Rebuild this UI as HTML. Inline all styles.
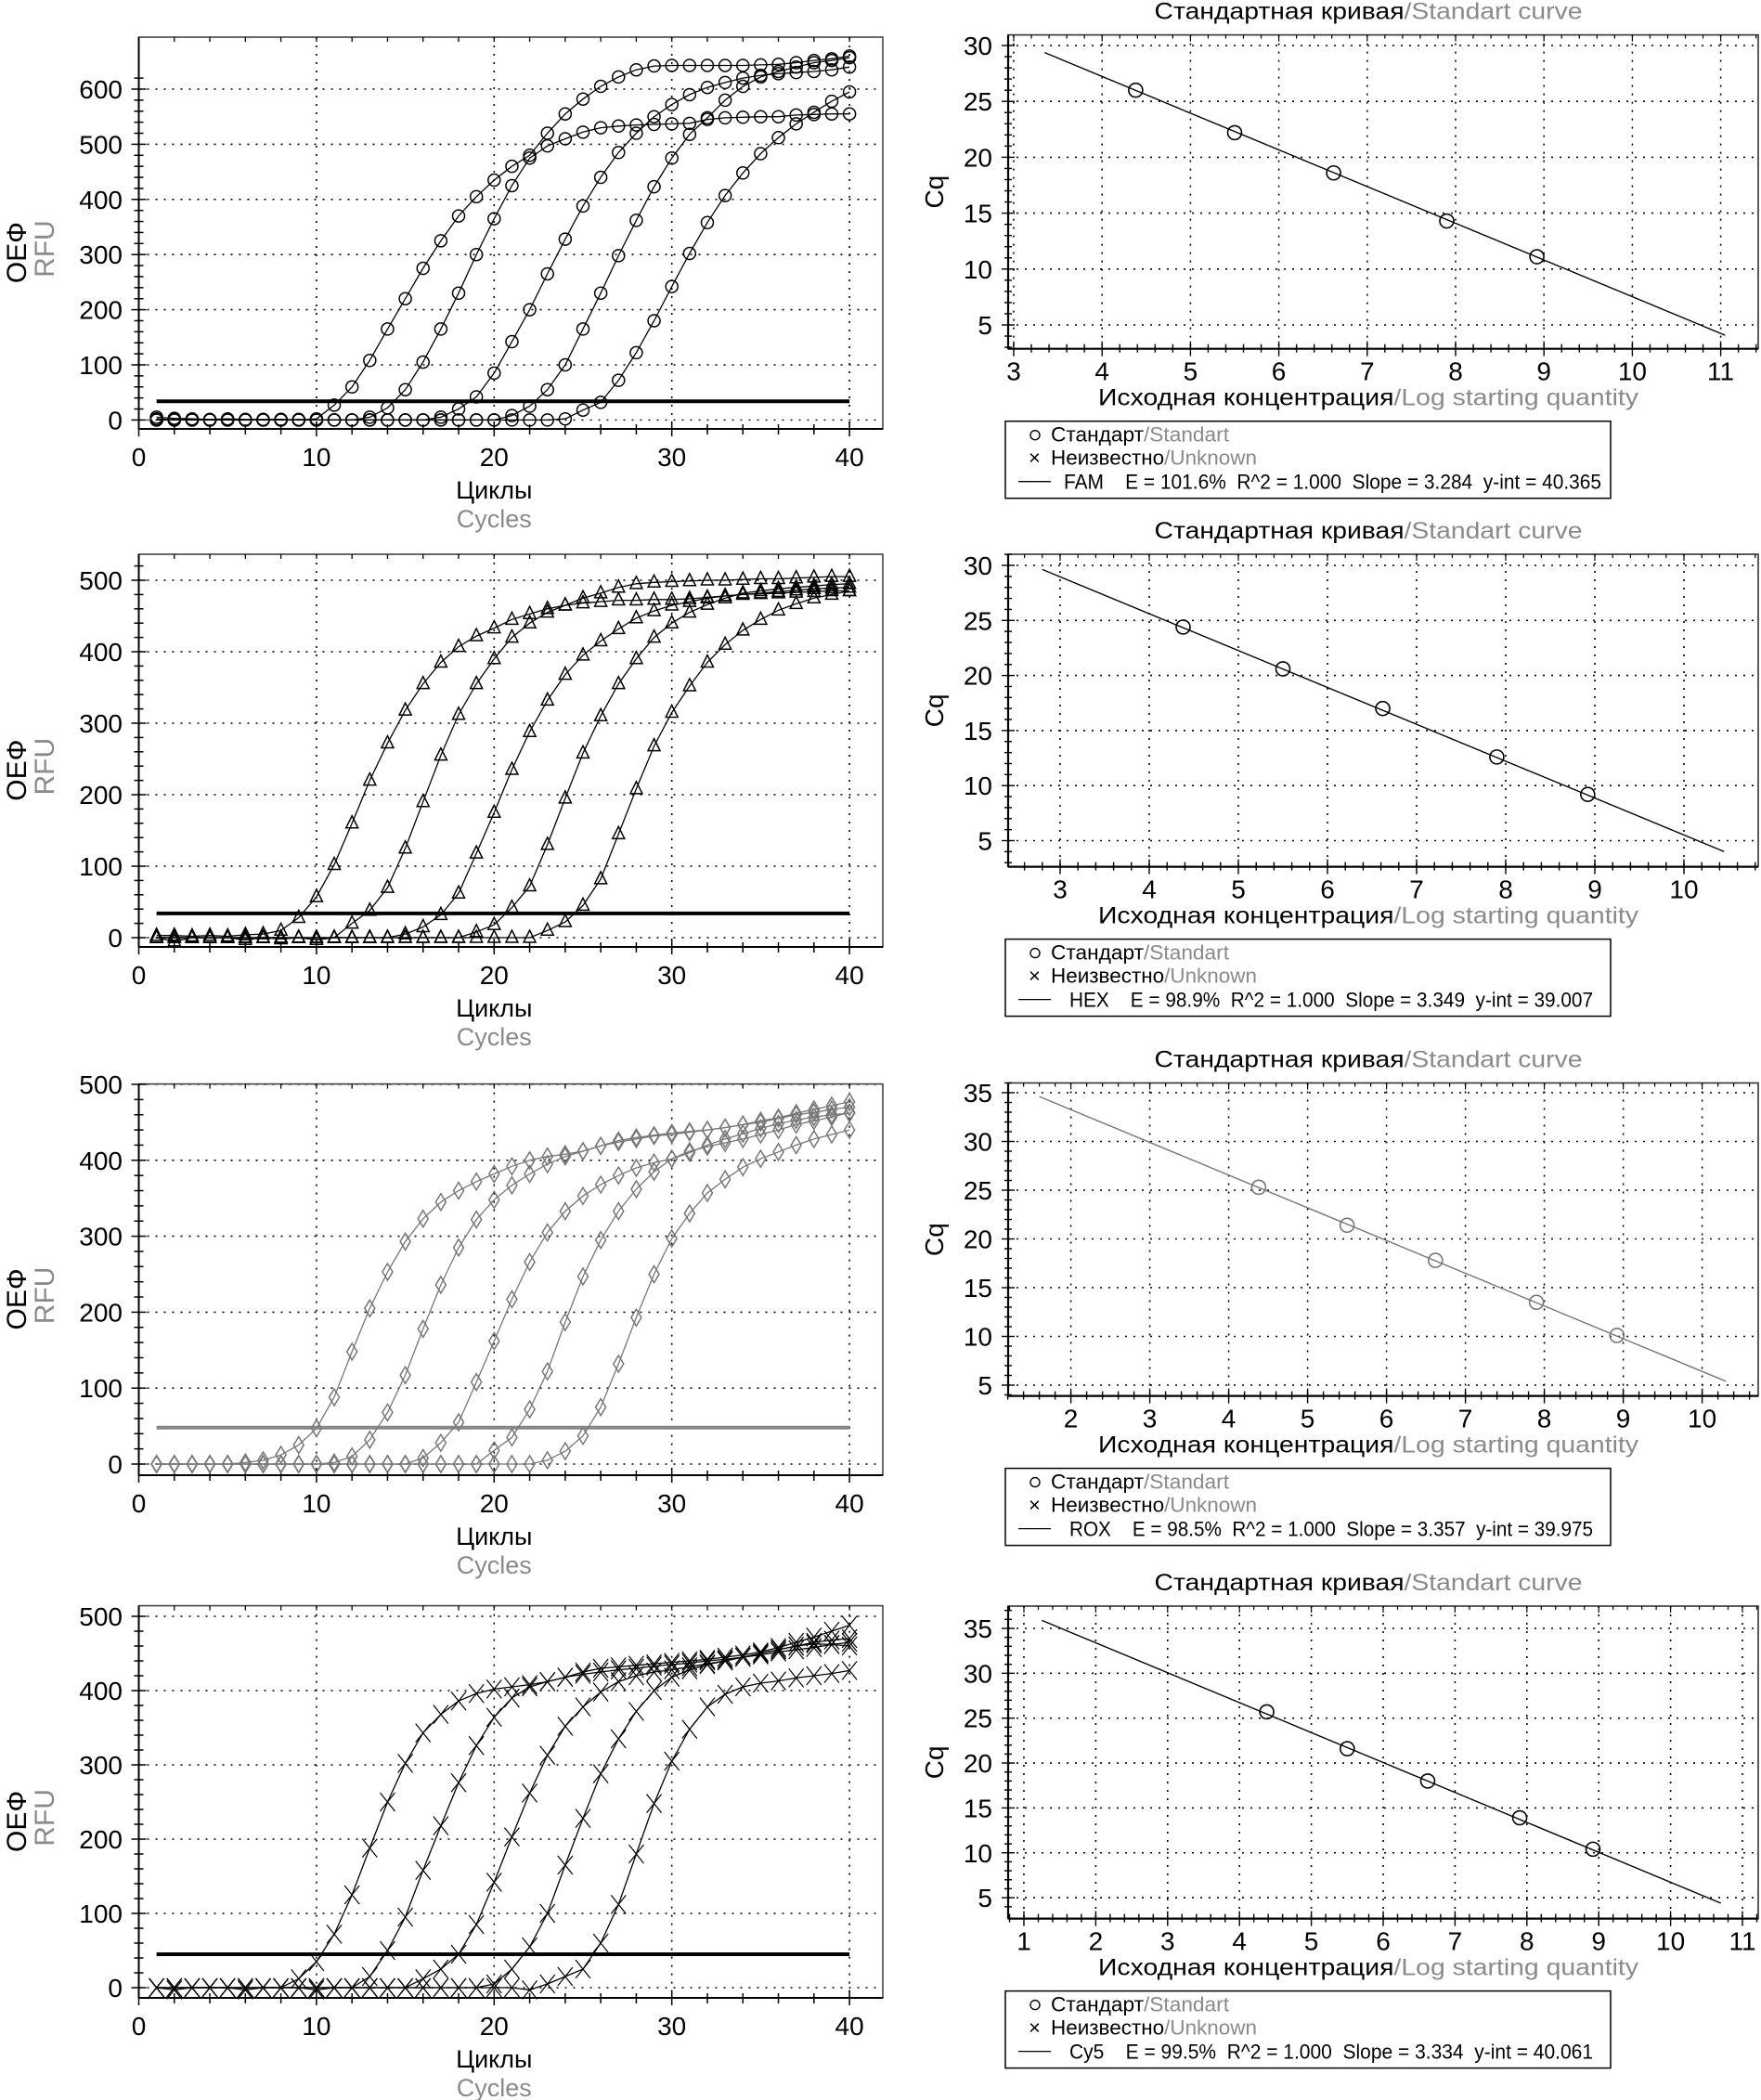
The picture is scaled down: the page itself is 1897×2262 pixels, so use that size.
<!DOCTYPE html>
<html><head><meta charset="utf-8"><style>
html,body{margin:0;padding:0;background:#fff;}
svg{display:block;font-family:"Liberation Sans","DejaVu Sans",sans-serif;}
</style></head><body>
<svg id="chart" width="1897" height="2262" viewBox="0 0 1897 2262" xmlns="http://www.w3.org/2000/svg"></svg>
<script>
// ---------- DATA ----------
const cycles = [1,2,3,4,5,6,7,8,9,10,11,12,13,14,15,16,17,18,19,20,21,22,23,24,25,26,27,28,29,30,31,32,33,34,35,36,37,38,39,40];
const famA = [5,3,2,1,2,1,1,1,0,2,27,60,108,165,220,275,325,370,405,435,460,480,520,555,582,605,622,635,642,643,643,643,643,643,644,645,648,652,655,660];
const famB = [2,0,1,0,1,0,0,0,1,0,0,0,5,22,55,105,165,230,300,365,425,475,497,510,522,530,533,535,536,537,538,545,548,549,550,550,553,554,555,555];
const famC = [0,1,0,0,0,0,0,1,0,0,0,0,0,0,0,0,5,20,42,85,142,200,265,328,388,440,485,520,550,572,590,603,612,620,625,628,630,632,635,640];
const famD = [0,0,0,0,0,0,0,0,0,0,0,0,0,0,0,0,0,0,0,0,8,25,55,100,165,230,298,362,423,475,518,548,580,605,622,632,640,648,652,657];
const famE = [0,0,0,0,0,0,0,0,0,0,0,0,0,0,0,0,0,0,0,0,0,0,0,2,18,32,72,122,180,242,302,358,407,448,483,512,537,558,578,595];
const hexA = [3,3,2,3,2,4,5,10,28,57,102,160,220,272,318,355,385,407,422,433,445,453,460,465,468,470,472,472,473,473,474,476,478,480,481,482,483,484,485,485];
const hexB = [0,-5,0,0,0,-3,0,-2,0,-3,0,20,38,70,125,190,255,312,355,390,420,440,455,465,475,482,490,495,497,498,499,500,500,501,502,502,503,504,505,505];
const hexC = [0,0,0,0,0,0,0,0,0,0,0,0,0,0,5,15,32,62,118,175,235,288,332,368,395,415,432,447,457,465,470,475,478,480,482,484,486,488,489,490];
const hexD = [0,0,0,0,0,0,0,0,0,0,0,0,0,0,0,0,0,0,8,18,42,72,130,195,258,310,355,390,420,440,455,466,475,482,485,488,490,492,494,495];
const hexE = [0,0,0,0,0,0,0,0,0,0,0,0,0,0,0,0,0,0,0,0,0,0,10,22,45,82,145,208,268,315,352,385,410,430,445,458,467,475,480,485];
const roxA = [0,0,0,0,0,2,5,12,25,47,88,148,205,253,293,323,345,360,372,382,392,400,405,408,412,419,424,428,432,434,437,440,443,447,450,455,460,463,467,470];
const roxB = [0,0,0,0,0,0,0,0,0,0,2,10,32,68,117,178,236,285,322,348,367,382,395,405,412,419,426,430,433,436,438,440,443,447,452,456,462,467,472,477];
const roxC = [0,0,0,0,0,0,0,0,0,0,0,0,0,0,0,8,28,55,108,162,217,266,305,333,353,368,380,390,397,402,410,420,428,435,442,448,453,457,460,462];
const roxD = [0,0,0,0,0,0,0,0,0,0,0,0,0,0,0,0,0,0,0,18,35,72,122,187,247,295,333,362,385,402,412,418,423,428,434,440,447,452,457,463];
const roxE = [0,0,0,0,0,0,0,0,0,0,0,0,0,0,0,0,0,0,0,0,0,0,5,17,37,75,132,193,250,297,330,357,375,391,402,411,420,428,434,440];
const cy5A = [0,0,0,0,0,0,0,0,12,35,72,125,188,250,302,343,368,386,396,402,405,408,412,418,425,430,432,434,436,438,440,442,445,448,452,458,465,472,480,488];
const cy5B = [0,-3,0,0,0,-3,0,0,0,-3,0,0,15,50,95,158,218,276,326,364,390,405,412,418,422,425,428,430,433,435,437,440,442,445,448,452,455,458,462,465];
const cy5C = [0,0,0,0,0,0,0,0,0,0,0,0,0,0,0,12,25,45,85,142,203,262,313,352,378,398,412,420,425,428,432,436,440,445,450,455,460,465,468,470];
const cy5D = [0,0,0,0,0,0,0,0,0,0,0,0,0,0,0,0,0,0,0,5,25,55,100,165,228,288,335,372,400,418,428,435,440,445,450,455,460,463,462,460];
const cy5E = [0,0,0,0,0,0,0,0,0,0,0,0,0,0,0,0,0,0,0,0,0,-3,5,15,25,60,112,180,248,305,348,378,395,405,410,413,417,420,423,427];
const thresholds = [34,34,48,45];
const ampTicksP1 = [0,100,200,300,400,500,600];
const ampTicksP2 = [0,100,200,300,400,500];
const cycleTicks = [0,10,20,30,40];

const stdX = [4.38,5.5,6.62,7.9,8.92];
const famCq = [26.0,22.2,18.6,14.3,11.1];
const hexCq = [24.4,20.6,17.0,12.6,9.2];
const roxCq = [25.3,21.4,17.8,13.5,10.1];
const cy5Cq = [25.7,21.6,18.0,13.9,10.4];
const slopes = [3.284,3.349,3.357,3.334];
const intercepts = [40.365,39.007,39.975,40.061];
const fitStart = [3.35,2.8,1.6,1.25];
const fitEnd = [11.05,10.45,10.3,10.7];
const dyes = ["FAM","HEX","ROX","Cy5"];
const effs = ["101.6%","98.9%","98.5%","99.5%"];
const cqTicks1 = [5,10,15,20,25,30];
const cqTicks2 = [5,10,15,20,25,30,35];
const lsqTicks1 = [3,4,5,6,7,8,9,10,11];
const lsqTicks2 = [3,4,5,6,7,8,9,10];
const lsqTicks3 = [2,3,4,5,6,7,8,9,10];
const lsqTicks4 = [1,2,3,4,5,6,7,8,9,10,11];

// ---------- DRAW ----------
const NS = "http://www.w3.org/2000/svg";
const svg = document.getElementById('chart');
const GRAY = "#8a8a8a";
function mk(tag, parent){ const e = document.createElementNS(NS, tag); parent.appendChild(e); return e; }
function attrs(e, o){ for (const k in o) e.setAttribute(k, o[k]); return e; }
function line(p, x1,y1,x2,y2, st, w, dash){
  const e = mk('line', p); attrs(e,{x1,y1,x2,y2,stroke:st,'stroke-width':w}); if(dash) e.setAttribute('stroke-dasharray',dash); return e;
}
function txt(p, x, y, s, size, anchor, fill){
  const e = mk('text', p); attrs(e,{x,y,'font-size':size,'text-anchor':anchor||'start',fill:fill||'#000'}); e.textContent = s; return e;
}
function bilingual(p, x, y, ru, en, size, width, anchor){
  const t = mk('text', p); attrs(t,{x,y,'font-size':size,'text-anchor':anchor||'start'});
  if(width){ t.setAttribute('textLength', width); t.setAttribute('lengthAdjust','spacingAndGlyphs'); }
  const a = mk('tspan', t); a.textContent = ru; a.setAttribute('fill','#000');
  const b = mk('tspan', t); b.textContent = en; b.setAttribute('fill',GRAY);
  return t;
}

function marker(p, type, cx, cy, color){
  let e;
  if(type==='circle'){ e = mk('ellipse',p); attrs(e,{cx,cy,rx:6.5,ry:6.5,fill:'none',stroke:color,'stroke-width':1.5}); }
  else if(type==='tri'){ e = mk('polygon',p); attrs(e,{points:`${cx},${cy-8} ${cx-6.5},${cy+5} ${cx+6.5},${cy+5}`,fill:'none',stroke:color,'stroke-width':1.5}); }
  else if(type==='diamond'){ e = mk('polygon',p); attrs(e,{points:`${cx},${cy-9} ${cx-5.5},${cy} ${cx},${cy+9} ${cx+5.5},${cy}`,fill:'none',stroke:color,'stroke-width':1.5}); }
  else { e = mk('path',p); attrs(e,{d:`M${cx-8},${cy-10}L${cx+8},${cy+10}M${cx-8},${cy+10}L${cx+8},${cy-10}`,fill:'none',stroke:color,'stroke-width':1.2}); }
  return e;
}

const ampPanels = [
  {top:40,bottom:462,y0:452.4,py:0.594,ymax:600,ticks:ampTicksP1,series:[famA,famB,famC,famD,famE],mark:'circle',color:'#000',thr:'#000'},
  {top:597,bottom:1020,y0:1010,py:0.77,ymax:500,ticks:ampTicksP2,series:[hexA,hexB,hexC,hexD,hexE],mark:'tri',color:'#000',thr:'#000'},
  {top:1167.6,bottom:1589,y0:1577,py:0.818,ymax:500,ticks:ampTicksP2,series:[roxA,roxB,roxC,roxD,roxE],mark:'diamond',color:'#777',thr:'#888'},
  {top:1729.6,bottom:2152,y0:2141,py:0.80,ymax:500,ticks:ampTicksP2,series:[cy5A,cy5B,cy5C,cy5D,cy5E],mark:'x',color:'#000',thr:'#000'}
];
const AL = 149.5, AR = 951, APX = 19.14;
const ax = v => AL + v*APX;

ampPanels.forEach((P, pi) => {
  const g = mk('g', svg);
  
  
  const ay = v => P.y0 - v*P.py;
  const grid = mk('g', g);
  
  
  P.ticks.forEach(t => { if(t>0) line(grid, AL, ay(t), AR, ay(t), '#000', 1.6, '2 7'); });
  cycleTicks.forEach(t => { if(t>0) line(grid, ax(t), P.top, ax(t), P.bottom, '#000', 1.6, '2 7'); });
  line(grid, AL, ay(0), AR, ay(0), '#000', 1.4, '2 7');
  const fr = mk('rect', g); attrs(fr,{x:AL,y:P.top,width:AR-AL,height:P.bottom-P.top,fill:'none',stroke:'#444','stroke-width':1.6});
  
  
  line(g, AL, P.top, AL, P.bottom, '#000', 2);
  line(g, AL, P.bottom, AR, P.bottom, '#000', 2);
  for(let v=0; v<=P.ymax+20; v+=20){ const y=ay(v); if(y<P.top) break; const major = v%100===0; line(g, AL-(major?8:5), y, AL+(major?8:5), y, '#000', 1.5); }
  for(let v=-20; v<0; v+=20){ const y=ay(v); if(y<P.bottom) line(g, AL-5, y, AL+5, y, '#000', 1.5); }
  for(let c=0; c<=42; c+=2){ const x=ax(c); if(x>AR) break; const major=c%10===0; line(g, x, P.bottom-(major?8:5), x, P.bottom+(major?8:6), '#000', 1.5); line(g, x, P.top, x, P.top+5, '#000', 1.3); }
  P.ticks.forEach(t => {
    const e = txt(g, 132, ay(t)+10, String(t), 28, 'end');
    
    
  });
  cycleTicks.forEach(t => {
    const e = txt(g, ax(t), P.bottom+40, String(t), 28, 'middle');
    
    
  });
  const xl1 = txt(g, ax(20), P.bottom+75, 'Циклы', 27, 'middle');
  
  
  const xl2 = txt(g, ax(20), P.bottom+106, 'Cycles', 27, 'middle', GRAY);
  
  
  const cy = P.top + 0.55*(P.bottom-P.top);
  const yl1 = txt(g, 0, 0, 'ОЕФ', 30, 'middle'); yl1.setAttribute('transform',`translate(28,${cy}) rotate(-90)`);
  
  
  const yl2 = txt(g, 0, 0, 'RFU', 30, 'middle', GRAY); yl2.setAttribute('transform',`translate(58,${cy-4}) rotate(-90)`);
  
  
  const th = line(g, ax(1), ay(thresholds[pi]), ax(40), ay(thresholds[pi]), P.thr, 4);
  
  
  P.series.forEach((arr, si) => {
    const sg = mk('g', g);
    
    
    const pts = arr.map((v,i)=> ax(cycles[i]).toFixed(1)+','+ay(v).toFixed(1)).join(' ');
    const pl = mk('polyline', sg); attrs(pl,{points:pts,fill:'none',stroke:P.color,'stroke-width':1.3});
    
    
    arr.forEach((v,i) => {
      const m = marker(sg, P.mark, ax(cycles[i]), ay(v), P.color);
      
      
    });
  });
});

// ---------- Standard curves ----------
const stdPanels = [
  {top:37.6,bottom:375.7,x0:3,px0:1092,pxu:95.2,ytop:30,py0:49,pyu:12.04,xmin:2.94,xmax:11.43,ymin:2.87,ymaxv:30.95,xt:lsqTicks1,yt:cqTicks1,cq:famCq,color:'#000'},
  {top:597,bottom:933.6,x0:3,px0:1142,pxu:96,ytop:30,py0:609,pyu:11.86,xmin:2.42,xmax:10.83,ymin:2.6,ymaxv:31.0,xt:lsqTicks2,yt:cqTicks1,cq:hexCq,color:'#000'},
  {top:1166.5,bottom:1503.6,x0:2,px0:1153.6,pxu:85,ytop:35,py0:1177,pyu:10.5,xmin:1.2,xmax:10.7,ymin:3.9,ymaxv:36.0,xt:lsqTicks3,yt:cqTicks2,cq:roxCq,color:'#777'},
  {top:1730,bottom:2066.6,x0:1,px0:1103,pxu:77.4,ytop:35,py0:1754,pyu:9.67,xmin:0.78,xmax:11.22,ymin:3.7,ymaxv:37.5,xt:lsqTicks4,yt:cqTicks2,cq:cy5Cq,color:'#000'}
];
const SL = 1086, SR = 1894;
stdPanels.forEach((P, pi) => {
  const g = mk('g', svg);
  
  
  const sx = v => P.px0 + (v-P.x0)*P.pxu;
  const sy = v => P.py0 + (P.ytop-v)*P.pyu;
  const title = bilingual(g, 1474, P.top-17, 'Стандартная кривая', '/Standart curve', 25, 461, 'middle');
  
  
  const grid = mk('g', g);
  
  
  P.yt.forEach(t => line(grid, SL, sy(t), SR, sy(t), '#000', 1.6, '2 7'));
  P.xt.forEach(t => line(grid, sx(t), P.top, sx(t), P.bottom, '#000', 1.6, '2 7'));
  const fr = mk('rect', g); attrs(fr,{x:SL,y:P.top,width:SR-SL,height:P.bottom-P.top,fill:'none',stroke:'#333','stroke-width':1.6});
  
  
  line(g, SL, P.top, SL, P.bottom, '#000', 2.2);
  line(g, SL, P.bottom, SR, P.bottom, '#000', 2.2);
  for(let v=Math.ceil(P.ymin); v<=P.ymaxv; v++){ const y=sy(v); const major=v%5===0; line(g, SL-(major?7:4), y, SL+(major?7:4), y, '#000', 1.4); }
  for(let k=Math.ceil(P.xmin*5); k<=P.xmax*5; k++){ const v=k/5; const x=sx(v); const major=k%5===0; line(g, x, P.bottom-(major?8:5), x, P.bottom+(major?8:4), '#000', 1.4); line(g, x, P.top, x, P.top+(major?7:4), '#000', 1.2); }
  P.yt.forEach(t => {
    const e = txt(g, 1069, sy(t)+10, String(t), 28, 'end');
    
    
  });
  P.xt.forEach(t => {
    const e = txt(g, sx(t), P.bottom+34, String(t), 28, 'middle');
    
    
  });
  const yl = txt(g, 0, 0, 'Cq', 28, 'middle'); yl.setAttribute('transform',`translate(1016,${(P.top+P.bottom)/2}) rotate(-90)`);
  
  
  const xl = bilingual(g, 1474, P.bottom+61, 'Исходная концентрация', '/Log starting quantity', 25, 582, 'middle');
  
  
  const f1 = fitStart[pi], f2 = fitEnd[pi];
  const fit = line(g, sx(f1), sy(intercepts[pi]-slopes[pi]*f1), sx(f2), sy(intercepts[pi]-slopes[pi]*f2), P.color, 1.4);
  
  
  P.cq.forEach((v,i) => {
    const c = mk('circle', g); attrs(c,{cx:sx(stdX[i]),cy:sy(v),r:7.5,fill:'none',stroke:P.color,'stroke-width':1.6});
    
    
  });
  const lg = mk('g', g);
  
  
  const lt = P.bottom + 78;
  const box = mk('rect', lg); attrs(box,{x:1083,y:lt,width:652,height:83,fill:'#fff',stroke:'#000','stroke-width':1.5});
  const s1 = mk('circle', lg); attrs(s1,{cx:1115,cy:lt+15,r:5,fill:'none',stroke:'#000','stroke-width':1.4});
  const e1 = bilingual(lg, 1132, lt+22, 'Стандарт', '/Standart', 22, 192);
  
  
  const s2 = txt(lg, 1108, lt+47, '×', 22, 'start');
  const e2 = bilingual(lg, 1132, lt+47, 'Неизвестно', '/Unknown', 22, 222);
  
  
  line(lg, 1097, lt+65, 1132, lt+65, '#000', 1.3);
  const sp = '\u00a0';
  const stats = `${dyes[pi]}${sp}${sp}${sp}${sp}E${sp}=${sp}${effs[pi]}${sp}${sp}R^2${sp}=${sp}1.000${sp}${sp}Slope${sp}=${sp}${slopes[pi].toFixed(3)}${sp}${sp}y-int${sp}=${sp}${intercepts[pi].toFixed(3)}`;
  const x0 = pi===0 ? 1146 : 1152;
  const e3 = txt(lg, x0, lt+73, stats, 22, 'start');
  e3.setAttribute('textLength', (pi===0?1725:1716) - x0);
  e3.setAttribute('lengthAdjust','spacingAndGlyphs');
  
  
});
</script>
</body></html>
